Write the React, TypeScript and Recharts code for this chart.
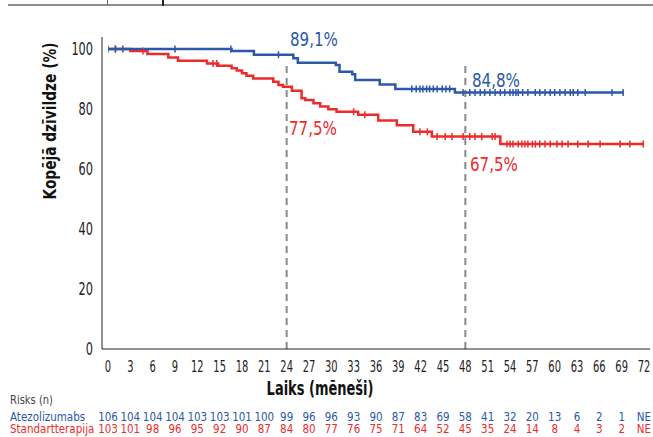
import React from "react";
import {
  ComposedChart,
  Line,
  Scatter,
  XAxis,
  YAxis,
  ReferenceLine,
  Customized,
} from "recharts";

// ─── Data ─────────────────────────────────────────────────────────────────────

const monthTicks = [0, 3, 6, 9, 12, 15, 18, 21, 24, 27, 30, 33, 36, 39, 42, 45, 48, 51, 54, 57, 60, 63, 66, 69, 72];
const yTicks = [0, 20, 40, 60, 80, 100];

// Atezolizumabs (blue) step curve
const atezoTimes = [0, 16.6, 19.6, 24.9, 25.5, 30.6, 31.1, 32.8, 33.2, 36.5, 38.6, 46.6, 69.2];
const atezoSurv = [100, 99.3, 98.1, 96.9, 95.4, 94.7, 92.4, 91.6, 89.7, 88.2, 86.7, 85.5, 85.5];
const atezoCensored = [0, 1, 2, 9, 16.5, 22.9, 40.8, 41.4, 41.9, 42.3, 42.8, 43.2, 43.7, 44.2, 44.9, 45.4, 45.9, 47.7, 48.6, 49.3, 50.0, 50.6, 51.3, 52.0, 52.7, 53.3, 54.0, 54.4, 54.8, 55.1, 55.7, 56.4, 57.4, 58.0, 58.7, 59.4, 60.0, 60.7, 61.4, 62.1, 62.5, 63.1, 64.1, 67.7, 69.2];

// Standartterapija (red) step curve
const stdTimes = [0, 3.0, 5.3, 8.1, 9.4, 13.3, 14.8, 16.6, 17.3, 18.0, 18.6, 19.5, 22.2, 22.9, 23.5, 24.7, 26.0, 26.5, 27.6, 28.5, 29.6, 30.7, 33.6, 36.3, 38.8, 41.0, 43.5, 52.7, 72.0];
const stdSurv = [100, 99.3, 98.3, 97.2, 96.1, 95.2, 94.4, 93.6, 92.8, 91.9, 91.1, 90.2, 89.1, 88.0, 87.4, 86.1, 83.6, 83.0, 81.9, 80.8, 79.9, 79.1, 78.1, 76.2, 74.6, 72.4, 70.8, 68.3, 68.3];
const stdCensored = [1, 4.7, 14.1, 14.6, 33.0, 34.5, 41.9, 42.9, 44.2, 45.3, 46.2, 47.7, 48.6, 49.3, 50.2, 51.6, 52.0, 53.6, 54.0, 54.4, 55.1, 55.6, 56.0, 56.4, 57.0, 57.4, 58.0, 58.7, 59.4, 60.3, 61.0, 61.8, 63.1, 64.5, 66.1, 68.8, 70.1, 71.9];

// Number at risk
const atezoRisk = ["106", "104", "104", "104", "103", "103", "101", "100", "99", "96", "96", "93", "90", "87", "83", "69", "58", "41", "32", "20", "13", "6", "2", "1", "NE"];
const stdRisk = ["103", "101", "98", "96", "95", "92", "90", "87", "84", "80", "77", "76", "75", "71", "64", "52", "45", "35", "24", "14", "8", "4", "3", "2", "NE"];

// ─── Helpers ──────────────────────────────────────────────────────────────────

const BLUE = "#2d58a8";
const RED = "#ee2b2b";
const GREY = "#8a8a8a";
const FONT = "'DejaVu Sans Condensed', 'DejaVu Sans', sans-serif";

const toRows = (ts: number[], ss: number[]) => ts.map((t, i) => ({ t, s: ss[i] }));

const survAt = (ts: number[], ss: number[], t: number) => {
  let v = ss[0];
  ts.forEach((tt, i) => {
    if (tt <= t) v = ss[i];
  });
  return v;
};

const censorRows = (cs: number[], ts: number[], ss: number[]) =>
  cs.map((t) => ({ t, s: survAt(ts, ss, t) }));

const atezoData = toRows(atezoTimes, atezoSurv);
const stdData = toRows(stdTimes, stdSurv);
const atezoCens = censorRows(atezoCensored, atezoTimes, atezoSurv);
const stdCens = censorRows(stdCensored, stdTimes, stdSurv);

const tickMark = (color: string) => (props: any) => {
  const { cx, cy } = props;
  return <line x1={cx} x2={cx} y1={cy - 3.5} y2={cy + 3.5} stroke={color} strokeWidth={1.5} />;
};

// condensed-looking text: the original uses a narrow typeface
function Narrow({ x, y, sx = 0.75, rotate = 0, children, ...rest }: any) {
  return (
    <text
      transform={`translate(${x} ${y}) rotate(${rotate}) scale(${sx} 1)`}
      x={0}
      y={0}
      fontFamily={FONT}
      {...rest}
    >
      {children}
    </text>
  );
}

const xTick = (fill: string, fontSize: number, sx: number, fmt?: (v: number) => string) => (props: any) => {
  const { x, y, payload } = props;
  const label = fmt ? fmt(payload.value) : String(payload.value);
  return (
    <Narrow x={x} y={y} sx={sx} dy="0.71em" textAnchor="middle" fontSize={fontSize} fill={fill}>
      {label}
    </Narrow>
  );
};

const yTick = (props: any) => {
  const { x, y, payload } = props;
  return (
    <Narrow x={x} y={y} sx={0.7} dy="0.355em" textAnchor="end" fontSize={18} fill="#222">
      {String(payload.value)}
    </Narrow>
  );
};

const riskFormatter = (row: string[]) => (v: number) => row[monthTicks.indexOf(v)] ?? "";

// ─── Component ────────────────────────────────────────────────────────────────

export default function App() {
  return (
    <div style={{ position: "absolute", left: 0, top: 0, width: 653, height: 437, background: "#fff", fontFamily: FONT }}>
      {/* header rule cut off from the page above */}
      <div style={{ position: "absolute", left: 8, top: 4, width: 645, height: 2, background: "#8c8c8c" }} />
      <div style={{ position: "absolute", left: 107, top: 0, width: 1, height: 5, background: "#666" }} />
      <div style={{ position: "absolute", left: 162, top: 0, width: 2, height: 6, background: "#222" }} />

      <ComposedChart width={653} height={437} margin={{ top: 37, right: 3, bottom: 12, left: 0 }}>
        <XAxis
          dataKey="t"
          type="number"
          domain={[0, 72]}
          ticks={monthTicks}
          interval={0}
          padding={{ left: 6, right: 6 }}
          allowDataOverflow
          height={48}
          stroke="#222"
          tickLine={false}
          tickSize={6}
          tickMargin={6}
          tick={xTick("#222", 15.5, 0.71)}
        />
        <XAxis
          xAxisId="atezo"
          dataKey="t"
          type="number"
          domain={[0, 72]}
          ticks={monthTicks}
          interval={0}
          padding={{ left: 6, right: 6 }}
          allowDataOverflow
          height={12}
          axisLine={false}
          tickLine={false}
          tickSize={6}
          tickMargin={9}
          tick={xTick(BLUE, 12.5, 0.92, riskFormatter(atezoRisk))}
        />
        <XAxis
          xAxisId="std"
          dataKey="t"
          type="number"
          domain={[0, 72]}
          ticks={monthTicks}
          interval={0}
          padding={{ left: 6, right: 6 }}
          allowDataOverflow
          height={16}
          axisLine={false}
          tickLine={false}
          tickSize={6}
          tickMargin={9}
          tick={xTick(RED, 12.5, 0.92, riskFormatter(stdRisk))}
        />
        <YAxis
          dataKey="s"
          type="number"
          domain={[0, 100]}
          ticks={yTicks}
          padding={{ top: 12, bottom: 0 }}
          width={102}
          stroke="#222"
          tickLine={false}
          tickSize={6}
          tickMargin={3}
          tick={yTick}
        />

        {/* 24 and 48 month markers */}
        <ReferenceLine segment={[{ x: 24, y: 0 }, { x: 24, y: 95 }]} stroke={GREY} strokeWidth={2} strokeDasharray="7 5" />
        <ReferenceLine segment={[{ x: 48, y: 0 }, { x: 48, y: 95 }]} stroke={GREY} strokeWidth={2} strokeDasharray="7 5" />

        <Line data={stdData} dataKey="s" type="stepAfter" stroke={RED} strokeWidth={2.5} dot={false} isAnimationActive={false} />
        <Line data={atezoData} dataKey="s" type="stepAfter" stroke={BLUE} strokeWidth={2.5} dot={false} isAnimationActive={false} />
        <Scatter data={stdCens} dataKey="s" shape={tickMark(RED)} isAnimationActive={false} />
        <Scatter data={atezoCens} dataKey="s" shape={tickMark(BLUE)} isAnimationActive={false} />

        <Customized
          component={() => (
            <g>
              <Narrow x={56} y={121} rotate={-90} sx={0.9} textAnchor="middle" fontSize={17} fontWeight={700} fill="#111">
                Kopējā dzīvildze (%)
              </Narrow>
              <Narrow x={320} y={395} sx={0.76} textAnchor="middle" fontSize={19} fontWeight={700} fill="#111">
                Laiks (mēneši)
              </Narrow>
              <Narrow x={290} y={46} sx={0.86} fontSize={19.5} fill={BLUE}>89,1%</Narrow>
              <Narrow x={289} y={135} sx={0.86} fontSize={19.5} fill={RED}>77,5%</Narrow>
              <Narrow x={472} y={87} sx={0.86} fontSize={19.5} fill={BLUE}>84,8%</Narrow>
              <Narrow x={470} y={171} sx={0.86} fontSize={19.5} fill={RED}>67,5%</Narrow>
              <Narrow x={10} y={404} sx={0.92} fontSize={12} fill="#444">Risks (n)</Narrow>
              <Narrow x={10} y={420.5} sx={0.92} fontSize={12.5} fill={BLUE}>Atezolizumabs</Narrow>
              <Narrow x={10} y={432.5} sx={0.92} fontSize={12.5} fill={RED}>Standartterapija</Narrow>
            </g>
          )}
        />
      </ComposedChart>
    </div>
  );
}
